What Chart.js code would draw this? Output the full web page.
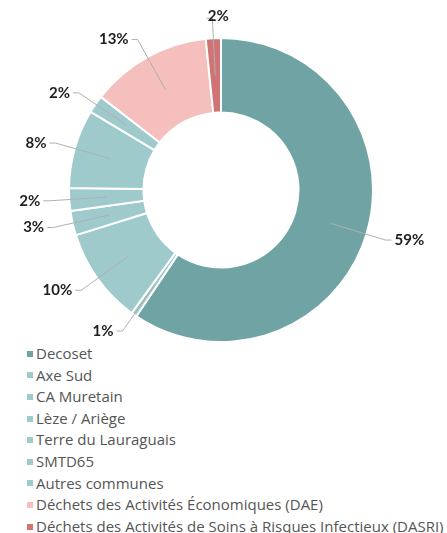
<!DOCTYPE html>
<html lang="fr">
<head>
<meta charset="utf-8">
<script src="https://cdn.jsdelivr.net/npm/chart.js@4.4.1/dist/chart.umd.min.js"></script>
<style>
  body { margin: 0; background: #fff; }
  #wrap { width: 447px; height: 343px; position: relative; }
  #legende ul { list-style: none; margin: 0; padding: 0 0 0 27px; }
  #legende li {
    font-family: "Open Sans", sans-serif;
    font-size: 15px;
    color: #555;
    line-height: 21.6px;
    height: 21.6px;
    white-space: nowrap;
    display: flex;
    align-items: center;
  }
  #legende li span.box {
    display: inline-block;
    width: 6px;
    height: 6px;
    margin-right: 3px;
  }
</style>
</head>
<body>
<div id="wrap"><canvas id="graf"></canvas></div>
<div id="legende"></div>
<script>
const kategorie = [
  "Decoset",
  "Axe Sud",
  "CA Muretain",
  "Lèze / Ariège",
  "Terre du Lauraguais",
  "SMTD65",
  "Autres communes",
  "Déchets des Activités Économiques (DAE)",
  "Déchets des Activités de Soins à Risques Infectieux (DASRI)"
];

// podíly v %
const hodnoty = [59.4, 0.6, 10.2, 2.6, 2.4, 8.4, 1.9, 12.9, 1.6];

const barvy = [
  "#6fa3a4", "#9ecacb", "#9ecacb", "#9ecacb", "#9ecacb",
  "#9ecacb", "#9ecacb", "#f5bfbe", "#d07373"
];

// popisky s vodicí čarou mimo prstenec
const popiskyPlugin = {
  id: "popisky",
  afterDatasetsDraw(chart) {
    const ctx = chart.ctx;
    const meta = chart.getDatasetMeta(0);
    ctx.save();
    ctx.font = "bold 15px Lato, sans-serif";
    ctx.textBaseline = "middle";
    meta.data.forEach((arc, i) => {
      const p = arc.getProps(["x", "y", "startAngle", "endAngle", "innerRadius", "outerRadius"], true);
      const uhel = (p.startAngle + p.endAngle) / 2;
      const rStred = (p.innerRadius + p.outerRadius) / 2;
      const rVen = p.outerRadius + 20;
      const x1 = p.x + Math.cos(uhel) * rStred;
      const y1 = p.y + Math.sin(uhel) * rStred;
      const x2 = p.x + Math.cos(uhel) * rVen;
      const y2 = p.y + Math.sin(uhel) * rVen;
      const vpravo = Math.cos(uhel) >= 0;
      const x3 = x2 + (vpravo ? 6 : -6);

      ctx.strokeStyle = "#b0b0b0";
      ctx.lineWidth = 1;
      ctx.beginPath();
      ctx.moveTo(x1, y1);
      ctx.lineTo(x2, y2);
      ctx.lineTo(x3, y2);
      ctx.stroke();

      const text = Math.round(hodnoty[i]) + "%";
      ctx.fillStyle = "#1e1e1e";
      if (Math.abs(Math.cos(uhel)) < 0.1) {
        // popisek nahoře
        ctx.textAlign = "center";
        ctx.fillText(text, x2 + 6, y2 - 2);
      } else {
        ctx.textAlign = vpravo ? "left" : "right";
        ctx.fillText(text, x3 + (vpravo ? 3 : -3), y2);
      }
    });
    ctx.restore();
  }
};

// HTML legenda pod grafem
const legendaPlugin = {
  id: "htmlLegenda",
  afterUpdate(chart) {
    const box = document.getElementById("legende");
    box.innerHTML = "";
    const ul = document.createElement("ul");
    chart.options.plugins.legend.labels.generateLabels(chart).forEach(item => {
      const li = document.createElement("li");
      const sq = document.createElement("span");
      sq.className = "box";
      sq.style.background = item.fillStyle;
      li.appendChild(sq);
      li.appendChild(document.createTextNode(item.text));
      ul.appendChild(li);
    });
    box.appendChild(ul);
  }
};

new Chart(document.getElementById("graf"), {
  type: "doughnut",
  data: {
    labels: kategorie,
    datasets: [{
      data: hodnoty,
      backgroundColor: barvy,
      borderColor: "#ffffff",
      borderWidth: 2
    }]
  },
  options: {
    responsive: true,
    maintainAspectRatio: false,
    animation: false,
    cutout: "51%",
    layout: { padding: { top: 37, bottom: 0, left: 68, right: 73 } },
    plugins: {
      legend: { display: false },
      tooltip: { enabled: false }
    }
  },
  plugins: [popiskyPlugin, legendaPlugin]
});
</script>
</body>
</html>
